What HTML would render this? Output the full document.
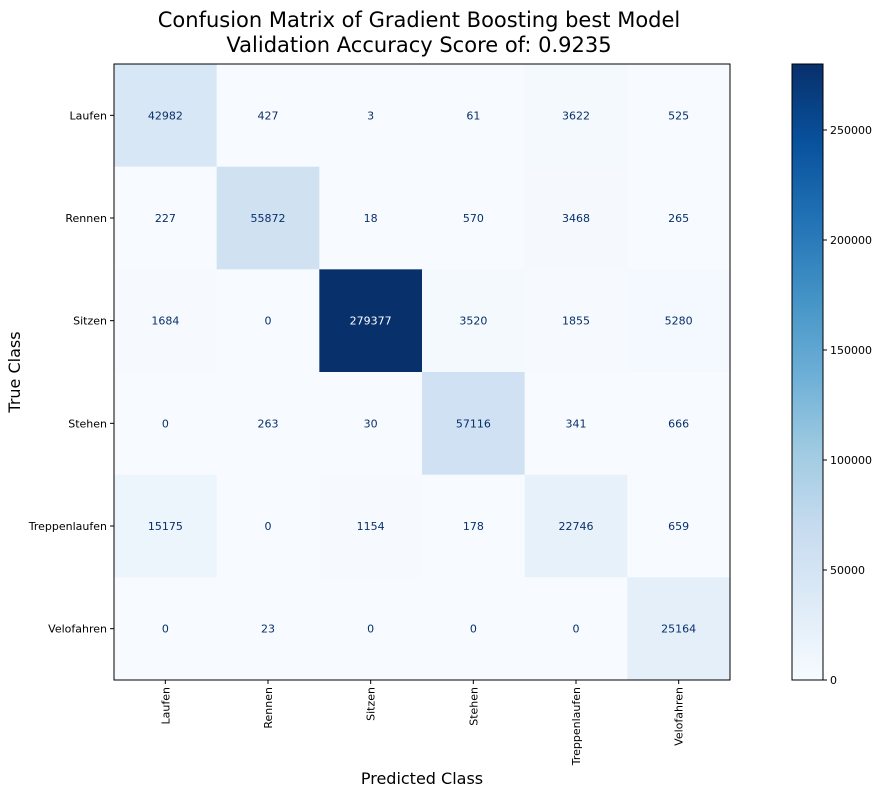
<!DOCTYPE html>
<html><head><meta charset="utf-8"><style>
body{margin:0;background:#fff;width:879px;height:790px;overflow:hidden}
svg text{font-family:"DejaVu Sans","Liberation Sans",sans-serif}
</style></head><body>
<svg id="chart" width="879" height="790" xmlns="http://www.w3.org/2000/svg">
<defs><linearGradient id="cbg" x1="0" y1="1" x2="0" y2="0">
<stop offset="0" stop-color="#f7fbff"/><stop offset="0.125" stop-color="#deebf7"/><stop offset="0.25" stop-color="#c6dbef"/><stop offset="0.375" stop-color="#9ecae1"/><stop offset="0.5" stop-color="#6baed6"/><stop offset="0.625" stop-color="#4292c6"/><stop offset="0.75" stop-color="#2171b5"/><stop offset="0.875" stop-color="#08519c"/><stop offset="1" stop-color="#08306b"/>
</linearGradient></defs>
<text x="419" y="27" font-size="21" text-anchor="middle">Confusion Matrix of Gradient Boosting best Model</text>
<text x="419" y="52" font-size="21" text-anchor="middle">Validation Accuracy Score of: 0.9235</text>
<g id="cells"></g>
<rect x="114" y="64" width="616" height="616" fill="none" stroke="#000" stroke-width="1"/>
<g id="axes"></g>
<text x="422" y="784" font-size="16" text-anchor="middle">Predicted Class</text>
<text x="20" y="372" font-size="16" text-anchor="middle" transform="rotate(-90 20 372)">True Class</text>
<rect x="792" y="64" width="31" height="616" fill="url(#cbg)" stroke="#000" stroke-width="1"/>
<g id="cbar"></g>
</svg>
<script>
const classes=["Laufen","Rennen","Sitzen","Stehen","Treppenlaufen","Velofahren"];
const row0=[42982,427,3,61,3622,525];
const row1=[227,55872,18,570,3468,265];
const row2=[1684,0,279377,3520,1855,5280];
const row3=[0,263,30,57116,341,666];
const row4=[15175,0,1154,178,22746,659];
const row5=[0,23,0,0,0,25164];
const matrix=[row0,row1,row2,row3,row4,row5];
const cbTicks=[0,50000,100000,150000,200000,250000];
const vmax=280000;
const NS="http://www.w3.org/2000/svg";
const X0=114,Y0=64,S=616,n=classes.length,cw=S/n;
const xs=j=>X0+j*cw, ys=i=>Y0+i*cw, cy=v=>680-v/vmax*616;
const stops=["#f7fbff","#deebf7","#c6dbef","#9ecae1","#6baed6","#4292c6","#2171b5","#08519c","#08306b"].map(h=>[1,3,5].map(k=>parseInt(h.substr(k,2),16)));
function blues(t){t=Math.max(0,Math.min(1,t))*8;const i=Math.min(7,Math.floor(t)),f=t-i;const c=stops[i].map((a,k)=>Math.round(a+(stops[i+1][k]-a)*f));return `rgb(${c})`;}
const mx=Math.max(...matrix.flat());
function mk(tag,attrs,p){const e=document.createElementNS(NS,tag);for(const k in attrs)e.setAttribute(k,attrs[k]);p.appendChild(e);return e;}
const cells=document.getElementById('cells'),axes=document.getElementById('axes'),cb=document.getElementById('cbar');
matrix.forEach((row,i)=>row.forEach((v,j)=>{
const r=mk('rect',{x:xs(j),y:ys(i),width:cw+0.5,height:cw+0.5,fill:blues(v/mx)},cells);


const t=mk('text',{x:xs(j)+cw/2,y:ys(i)+cw/2+4,'font-size':11,'text-anchor':'middle',fill:v>mx/2?'#fff':'#08306b'},cells);
t.textContent=v;


}));
classes.forEach((c,i)=>{
const y=ys(i)+cw/2;
mk('line',{x1:X0-4,x2:X0,y1:y,y2:y,stroke:'#000'},axes);
const t=mk('text',{x:X0-7,y:y+4,'font-size':11,'text-anchor':'end'},axes);t.textContent=c;


const x=xs(i)+cw/2;
mk('line',{x1:x,x2:x,y1:680,y2:684,stroke:'#000'},axes);
const u=mk('text',{x:x+4,y:687,'font-size':11,'text-anchor':'end',transform:`rotate(-90 ${x+4} 687)`},axes);u.textContent=c;


});
cbTicks.forEach(v=>{
const y=cy(v);
mk('line',{x1:823,x2:827,y1:y,y2:y,stroke:'#000'},cb);
const t=mk('text',{x:830,y:y+4,'font-size':11},cb);t.textContent=v;


});
</script>
</body></html>
